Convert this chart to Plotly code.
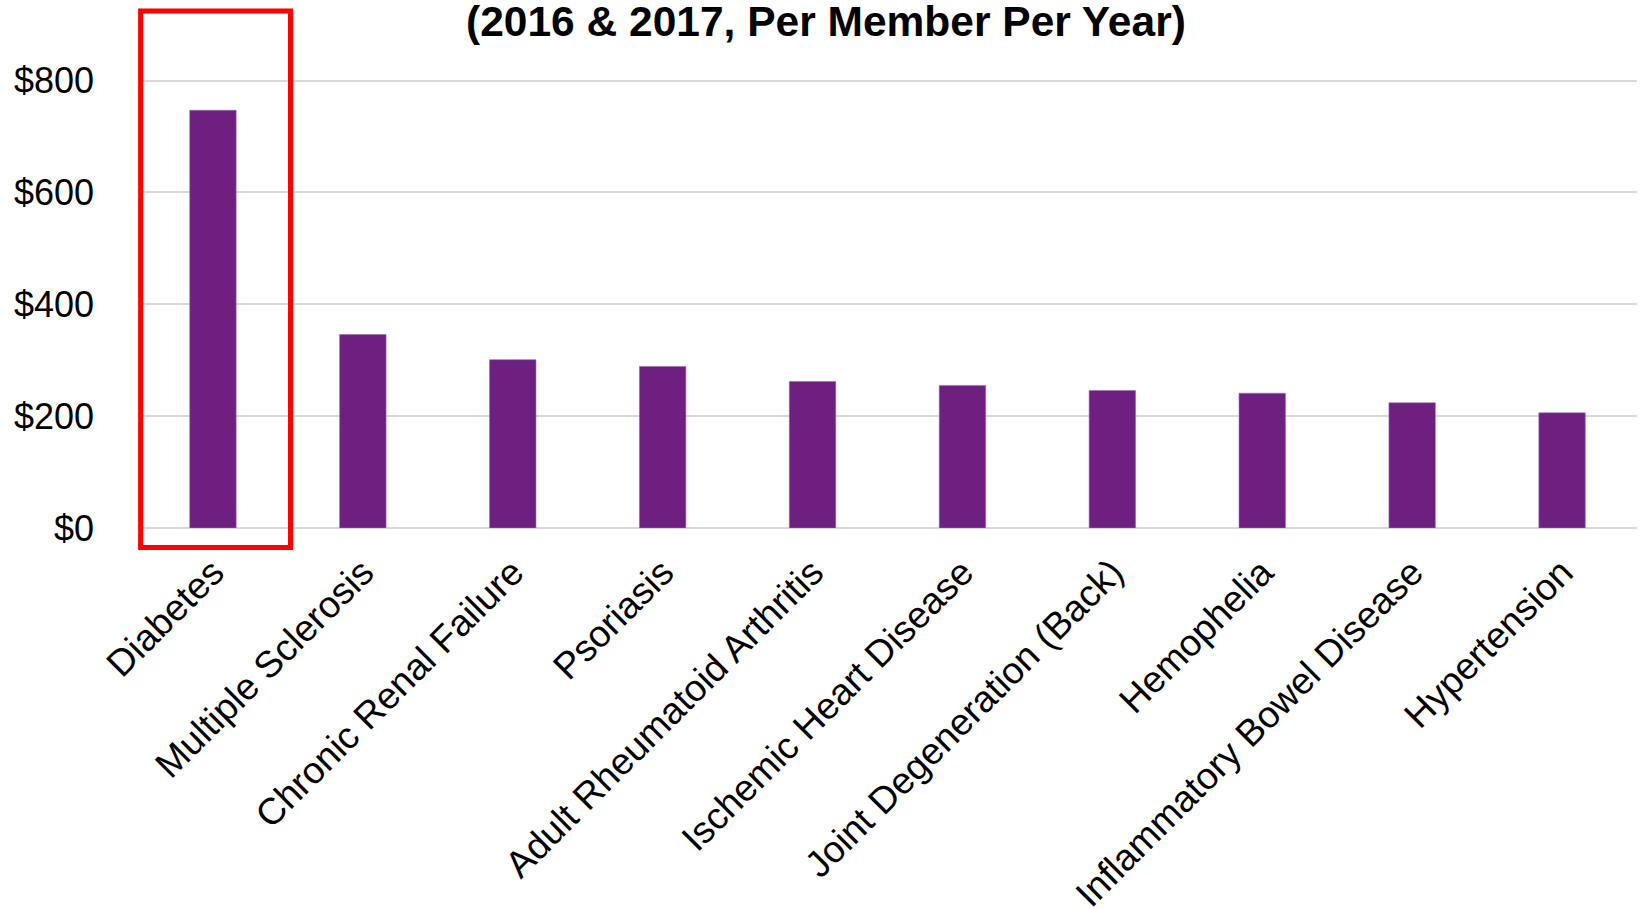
import plotly.graph_objects as go

categories = ["Diabetes", "Multiple Sclerosis", "Chronic Renal Failure", "Psoriasis",
              "Adult Rheumatoid Arthritis", "Ischemic Heart Disease",
              "Joint Degeneration (Back)", "Hemophelia", "Inflammatory Bowel Disease",
              "Hypertension"]
spend_pmpy = [747, 346, 301, 289, 262, 255, 246, 241, 224, 206]
y_ticks = [0, 200, 400, 600, 800]
y_tick_labels = ["$0", "$200", "$400", "$600", "$800"]
title_text = "(2016 & 2017, Per Member Per Year)"
highlight_index = 0

W, H = 1642, 909
ML, MR, MT, MB = 138, 5, 60, 381
FONT = "Arial, 'Liberation Sans', sans-serif"

fig = go.Figure(go.Bar(
    x=categories, y=spend_pmpy,
    marker=dict(color="#6e2080", line=dict(color="#9b6fab", width=0.6)),
    width=0.31,
))

# highlight rectangle around the Diabetes band (paper coords derived from category index)
n = len(categories)
pw, ph = W - ML - MR, H - MT - MB
x0 = highlight_index / n + 2.6 / pw
x1 = (highlight_index + 1) / n + 2.6 / pw
fig.add_shape(type="rect", xref="paper", yref="paper",
              x0=x0, x1=x1, y0=-19.5 / ph, y1=1 + 49 / ph,
              line=dict(color="#ff0000", width=5), fillcolor="rgba(0,0,0,0)")

fig.update_layout(
    width=W, height=H,
    margin=dict(l=ML, r=MR, t=MT, b=MB, autoexpand=False),
    paper_bgcolor="white", plot_bgcolor="white",
    font=dict(family=FONT, size=36, color="black"),
    showlegend=False,
    title=dict(text="<b>" + title_text + "</b>", xref="container", yref="container",
               x=0.503, xanchor="center", y=1 - 21 / H, yanchor="middle",
               font=dict(size=42.5, family=FONT, color="black")),
    bargap=0.69,
)
fig.update_xaxes(
    range=[-0.5, n - 0.5], tickangle=-45, showgrid=False, zeroline=False,
    showline=False, ticks="", ticklabelstandoff=14,
    tickfont=dict(size=37.3, family=FONT, color="black"), automargin=False,
)
fig.update_yaxes(
    range=[0, ph / (447.4 / 800)], tickvals=y_ticks, ticktext=y_tick_labels,
    showgrid=True, gridcolor="#d9d9d9", gridwidth=1.5,
    zeroline=True, zerolinecolor="#d9d9d9", zerolinewidth=1.5,
    showline=False, ticks="", ticklabelstandoff=43,
    tickfont=dict(size=36, family=FONT, color="black"), automargin=False,
)

fig.write_html("out.html")
